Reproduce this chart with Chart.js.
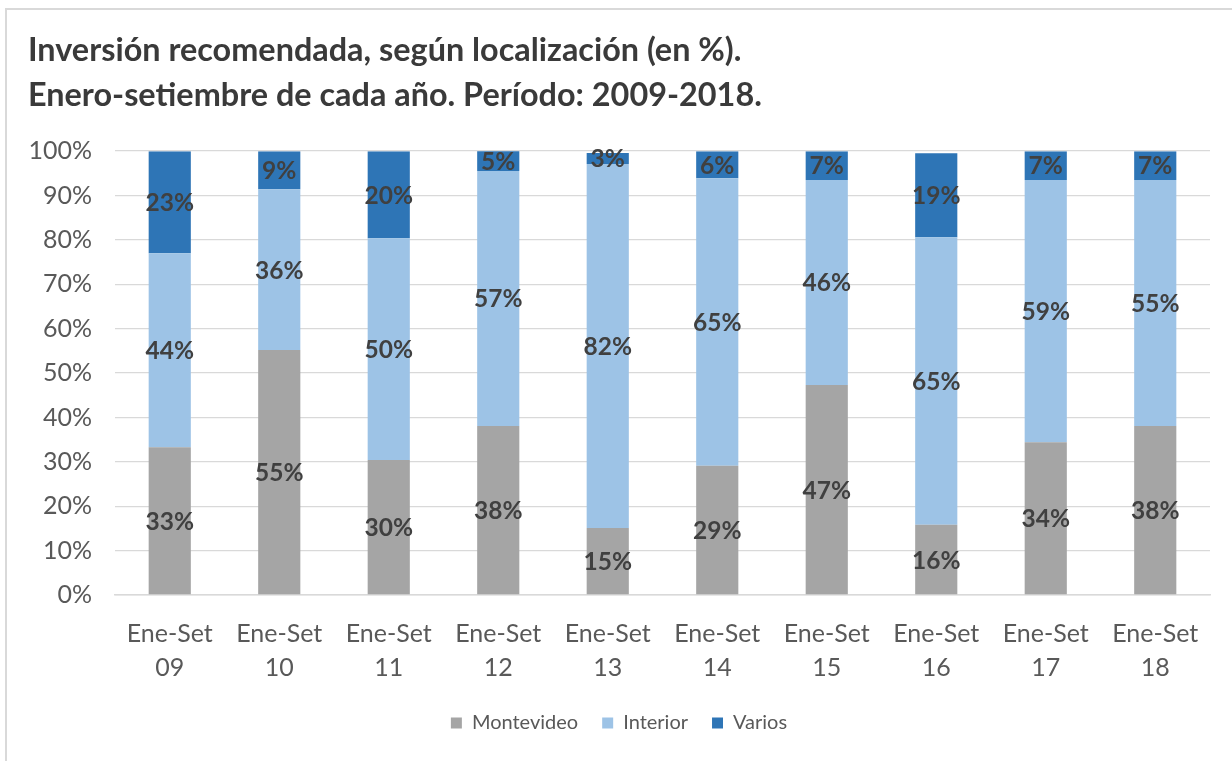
<!DOCTYPE html>
<html lang="es">
<head>
    <meta charset="UTF-8">
    <title>Inversión recomendada, según localización</title>
    <script src="https://cdn.jsdelivr.net/npm/chart.js@4.4.0/dist/chart.umd.min.js"></script>
    <style>
        html, body { margin: 0; padding: 0; background: #fff; overflow: hidden; }
        #frame {
            position: absolute; left: 5px; top: 8px;
            width: 1400px; height: 900px;
            border: 2px solid #d9d9d9;
        }
        #wrap { position: absolute; left: 0; top: 0; width: 1232px; height: 761px; }
    </style>
</head>
<body>
    <div id="frame"></div>
    <div id="wrap"><canvas id="chart"></canvas></div>

    <script>
        // data (percent of each year's total)
        const periodLabel = 'Ene-Set';
        const years = ['09', '10', '11', '12', '13', '14', '15', '16', '17', '18'];
        const montevideo = [33.3, 55.2, 30.4, 38.1, 15.1, 29.1, 47.3, 15.8, 34.4, 38.1];
        const interior   = [43.7, 36.2, 50.0, 57.4, 82.0, 64.8, 46.2, 64.8, 59.1, 55.4];
        const varios     = [23.0,  8.6, 19.6,  4.6,  2.5,  6.1,  6.5, 18.9,  6.5,  6.5];
        const yTicks = [0, 10, 20, 30, 40, 50, 60, 70, 80, 90, 100];

        const titleLines = [
            'Inversión recomendada, según localización (en %).',
            'Enero-setiembre de cada año. Período: 2009-2018.'
        ];

        const FONT = 'Lato, "Open Sans", sans-serif';

        // draws the rounded % inside every segment
        const segmentLabels = {
            id: 'segmentLabels',
            afterDatasetsDraw(chart) {
                const ctx = chart.ctx;
                ctx.save();
                ctx.font = 'bold 24.5px ' + FONT;
                ctx.fillStyle = '#404040';
                ctx.textAlign = 'center';
                ctx.textBaseline = 'middle';
                chart.data.datasets.forEach(function(ds, i) {
                    const meta = chart.getDatasetMeta(i);
                    meta.data.forEach(function(bar, j) {
                        const v = ds.data[j];
                        const yMid = (bar.y + bar.base) / 2;
                        ctx.fillText(Math.round(v) + '%', bar.x, yMid + 1);
                    });
                });
                ctx.restore();
            }
        };

        const ctx = document.getElementById('chart').getContext('2d');
        new Chart(ctx, {
            type: 'bar',
            data: {
                labels: years.map(function(y) { return [periodLabel, y]; }),
                datasets: [
                    { label: 'Montevideo', data: montevideo, backgroundColor: '#a5a5a5' },
                    { label: 'Interior', data: interior, backgroundColor: '#9dc3e6' },
                    { label: 'Varios', data: varios, backgroundColor: '#2e75b6' }
                ]
            },
            options: {
                responsive: true,
                maintainAspectRatio: false,
                animation: false,
                barPercentage: 0.385,
                categoryPercentage: 1.0,
                layout: { padding: { left: 28, right: 22, top: 29, bottom: 18 } },
                plugins: {
                    title: {
                        display: true,
                        text: titleLines,
                        align: 'start',
                        color: '#3a3a3a',
                        font: { family: FONT, size: 32.4, weight: 'bold', lineHeight: 1.36 },
                        padding: { top: 0, bottom: 34 }
                    },
                    legend: {
                        position: 'bottom',
                        labels: {
                            color: '#595959',
                            font: { family: FONT, size: 20 },
                            boxWidth: 11,
                            boxHeight: 11,
                            padding: 24
                        }
                    },
                    tooltip: { enabled: false }
                },
                scales: {
                    x: {
                        stacked: true,
                        grid: { display: false, drawTicks: false },
                        border: { display: true, color: '#d9d9d9', width: 1.5 },
                        ticks: {
                            color: '#595959',
                            font: { family: FONT, size: 25, lineHeight: 1.36 },
                            padding: 22,
                            maxRotation: 0
                        },
                        afterFit: function(scale) { scale.height = 94; }
                    },
                    y: {
                        stacked: true,
                        min: 0,
                        max: 100,
                        afterBuildTicks: function(scale) {
                            scale.ticks = yTicks.map(function(v) { return { value: v }; });
                        },
                        grid: { color: '#d9d9d9', lineWidth: 1.3, drawTicks: false },
                        border: { display: false },
                        ticks: {
                            color: '#595959',
                            font: { family: FONT, size: 25 },
                            padding: 23,
                            callback: function(v) { return v + '%'; }
                        },
                        afterFit: function(scale) { scale.width = 87; }
                    }
                }
            },
            plugins: [segmentLabels]
        });
    </script>
</body>
</html>
